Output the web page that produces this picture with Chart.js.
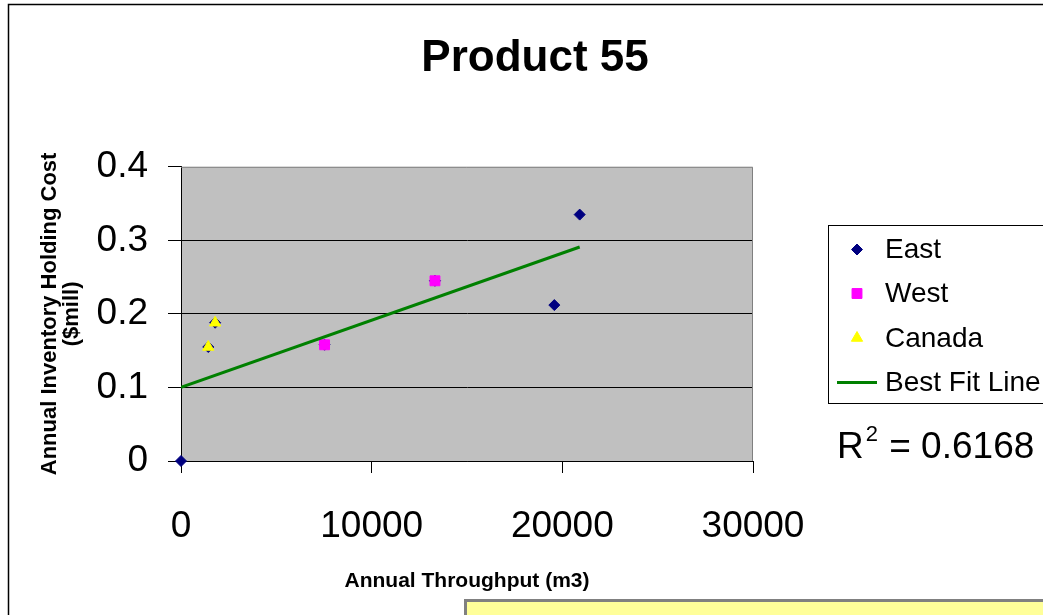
<!DOCTYPE html>
<html>
<head>
<meta charset="utf-8">
<script src="https://cdn.jsdelivr.net/npm/chart.js@4.4.1/dist/chart.umd.min.js"></script>
<style>
  html, body { margin: 0; padding: 0; background: #fff; }
  #wrap { width: 1043px; height: 615px; position: relative; }
</style>
</head>
<body>
<div id="wrap"><canvas id="c" width="1043" height="615"></canvas></div>
<script>
// ---- data ----
const eastX   = [0, 1430, 1790, 7530, 13320, 19580, 20910];
const eastY   = [0, 0.155, 0.188, 0.158, 0.245, 0.212, 0.335];
const westX   = [7530, 13320];
const westY   = [0.158, 0.245];
const canadaX = [1430, 1790];
const canadaY = [0.155, 0.188];
const fitX    = [0, 20910];
const fitY    = [0.1, 0.291];
const seriesNames = ['East', 'West', 'Canada', 'Best Fit Line'];
const xTicks = [0, 10000, 20000, 30000];
const yTicks = [0, 0.1, 0.2, 0.3, 0.4];
const rSquared = '0.6168';
const titleText = 'Product 55';
const xTitle = 'Annual Throughput (m3)';
const yTitle = ['Annual Inventory Holding Cost', '($mill)'];

const FONT = '"Liberation Sans", Arial, Helvetica, sans-serif';
const pts = (xs, ys) => xs.map((x, i) => ({ x: x, y: ys[i] }));

const styles = [
  { pointStyle: 'rectRot',  color: '#000080', radius: 5.5 },
  { pointStyle: 'rect',     color: '#FF00FF', radius: 7 },
  { pointStyle: 'triangle', color: '#FFFF00', radius: 6.5 },
];

const decor = {
  id: 'decor',
  beforeDraw(chart) {
    const ctx = chart.ctx, a = chart.chartArea;
    ctx.save();
    ctx.fillStyle = '#ffffff';
    ctx.fillRect(0, 0, chart.width, chart.height);
    // outer chart border (top and left visible)
    ctx.strokeStyle = '#000';
    ctx.lineWidth = 1.5;
    ctx.beginPath();
    ctx.moveTo(8.5, chart.height);
    ctx.lineTo(8.5, 4.5);
    ctx.lineTo(chart.width, 4.5);
    ctx.stroke();
    // plot area
    ctx.fillStyle = '#C0C0C0';
    ctx.fillRect(a.left, a.top, a.right - a.left, a.bottom - a.top);
    ctx.restore();
  },
  beforeDatasetsDraw(chart) {
    const ctx = chart.ctx, a = chart.chartArea;
    ctx.save();
    ctx.strokeStyle = '#808080';
    ctx.lineWidth = 1;
    ctx.beginPath();
    ctx.moveTo(a.left, a.top + 0.5);
    ctx.lineTo(a.right - 0.5, a.top + 0.5);
    ctx.lineTo(a.right - 0.5, a.bottom);
    ctx.stroke();
    ctx.restore();
  },
  afterDraw(chart) {
    const ctx = chart.ctx;
    ctx.save();
    // legend box
    const lx = 828, ly = 225, lb = 403;
    ctx.fillStyle = '#fff';
    ctx.fillRect(lx, ly, chart.width - lx + 5, lb - ly);
    ctx.strokeStyle = '#000';
    ctx.lineWidth = 1;
    ctx.strokeRect(lx + 0.5, ly + 0.5, chart.width - lx + 5, lb - ly);
    const rows = [249.5, 293.5, 338, 382.5];
    ctx.font = '28px ' + FONT;
    ctx.textBaseline = 'middle';
    ctx.textAlign = 'left';
    for (let i = 0; i < 4; i++) {
      const y = rows[i];
      if (i < 3) {
        const s = styles[i];
        ctx.fillStyle = s.color;
        ctx.strokeStyle = s.color;
        ctx.lineWidth = 1;
        Chart.helpers.drawPoint(ctx, { pointStyle: s.pointStyle, radius: s.radius, rotation: 0, borderWidth: 1 }, 857, y);
      } else {
        ctx.strokeStyle = '#008000';
        ctx.lineWidth = 3;
        ctx.beginPath();
        ctx.moveTo(837, y);
        ctx.lineTo(877, y);
        ctx.stroke();
      }
      ctx.fillStyle = '#000';
      ctx.fillText(seriesNames[i], 885, y + 1);
    }
    // R squared
    ctx.fillStyle = '#000';
    ctx.textBaseline = 'alphabetic';
    ctx.font = '37px ' + FONT;
    ctx.fillText('R', 837, 458);
    const rw = ctx.measureText('R').width;
    ctx.font = '22px ' + FONT;
    ctx.fillText('2', 837 + rw + 2, 441);
    const sw = ctx.measureText('2').width;
    ctx.font = '37px ' + FONT;
    ctx.fillText(' = ' + rSquared, 837 + rw + sw + 3, 458);
    // yellow note box at bottom
    ctx.fillStyle = '#FFFF99';
    ctx.fillRect(465, 600, chart.width, 30);
    ctx.strokeStyle = '#808080';
    ctx.lineWidth = 3;
    ctx.beginPath();
    ctx.moveTo(465.5, chart.height);
    ctx.lineTo(465.5, 600.5);
    ctx.lineTo(chart.width, 600.5);
    ctx.stroke();
    ctx.restore();
  }
};

new Chart(document.getElementById('c'), {
  type: 'scatter',
  data: {
    datasets: [
      { label: seriesNames[0], data: pts(eastX, eastY), order: 3, clip: 12,
        pointStyle: styles[0].pointStyle, pointRadius: styles[0].radius,
        backgroundColor: styles[0].color, borderColor: styles[0].color, borderWidth: 1 },
      { label: seriesNames[1], data: pts(westX, westY), order: 2, clip: 12,
        pointStyle: styles[1].pointStyle, pointRadius: styles[1].radius,
        backgroundColor: styles[1].color, borderColor: styles[1].color, borderWidth: 1 },
      { label: seriesNames[2], data: pts(canadaX, canadaY), order: 1, clip: 12,
        pointStyle: styles[2].pointStyle, pointRadius: styles[2].radius,
        backgroundColor: styles[2].color, borderColor: styles[2].color, borderWidth: 1 },
      { label: seriesNames[3], data: pts(fitX, fitY), order: 0, type: 'line',
        showLine: true, pointRadius: 0, borderColor: '#008000', borderWidth: 3,
        backgroundColor: '#008000', fill: false, tension: 0 }
    ]
  },
  options: {
    responsive: false,
    animation: false,
    devicePixelRatio: 1,
    layout: { padding: { left: 27, right: 0, top: 0, bottom: 0 } },
    plugins: {
      legend: { display: false },
      tooltip: { enabled: false },
      title: {
        display: true, text: titleText, color: '#000',
        font: { family: FONT, size: 44, weight: 'bold', lineHeight: 1.2 },
        padding: { top: 32, bottom: 82 }
      }
    },
    scales: {
      x: {
        type: 'linear', position: 'bottom', min: 0, max: 30000,
        afterBuildTicks: s => { s.ticks = xTicks.map(v => ({ value: v })); },
        afterFit: s => { s.height = 154; },
        ticks: { color: '#000', font: { family: FONT, size: 37 }, padding: 32,
                 callback: v => String(v), maxRotation: 0, autoSkip: false },
        grid: { drawOnChartArea: false, drawTicks: true, tickLength: 12, color: '#000', tickColor: '#000' },
        border: { display: true, color: '#000', width: 1 },
        title: { display: true, text: xTitle, color: '#000',
                 font: { family: FONT, size: 21, weight: 'bold', lineHeight: 1.2 },
                 padding: { top: 0, bottom: 21 } }
      },
      y: {
        type: 'linear', position: 'left', min: 0, max: 0.4,
        afterBuildTicks: s => { s.ticks = yTicks.map(v => ({ value: v })); },
        afterFit: s => { s.width = 154; },
        ticks: { color: '#000', font: { family: FONT, size: 37 }, padding: 20,
                 callback: v => String(Math.round(v * 10) / 10) },
        grid: { drawOnChartArea: true, drawTicks: true, tickLength: 13,
                color: c => (c.tick && c.tick.value >= 0.4 ? 'rgba(0,0,0,0)' : '#000'),
                tickColor: '#000', lineWidth: 1 },
        border: { display: true, color: '#000', width: 1 },
        title: { display: true, text: yTitle, color: '#000',
                 font: { family: FONT, size: 22, weight: 'bold', lineHeight: 1.0 },
                 padding: { top: 12, bottom: 0 } }
      },
      yR: {
        type: 'linear', position: 'right', display: true, min: 0, max: 1,
        afterFit: s => { s.width = 290; },
        ticks: { display: false },
        grid: { display: false, drawOnChartArea: false },
        border: { display: false },
        title: { display: false }
      }
    }
  },
  plugins: [decor]
});
</script>
</body>
</html>
